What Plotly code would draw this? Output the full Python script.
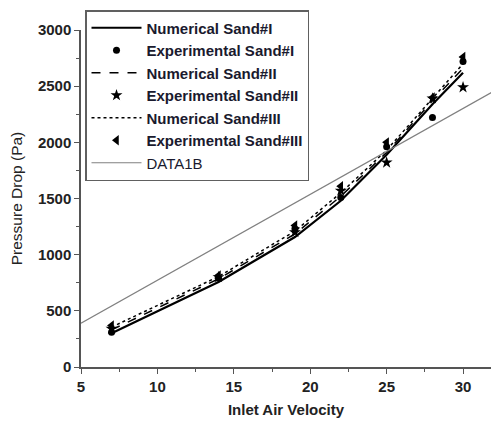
import plotly.graph_objects as go

velocity = [7, 14, 19, 22, 25, 28, 30]

num_sand1 = [300, 757, 1157, 1480, 1890, 2340, 2620]
num_sand2 = [330, 785, 1185, 1520, 1910, 2370, 2660]
num_sand3 = [355, 805, 1210, 1550, 1930, 2395, 2700]

exp_sand1 = [310, 790, 1230, 1510, 1960, 2220, 2720]
exp_sand2 = [340, 800, 1200, 1570, 1820, 2390, 2490]
exp_sand3 = [370, 815, 1260, 1610, 2000, 2400, 2760]

data1b_x = [5, 32.4]
data1b_y = [390, 2485]

x_ticks = [5, 10, 15, 20, 25, 30]
y_ticks = [0, 500, 1000, 1500, 2000, 2500, 3000]

FONT = "Liberation Sans, Arial, sans-serif"

fig = go.Figure()
fig.add_trace(go.Scatter(x=velocity, y=num_sand1, mode="lines", name="<b>Numerical Sand#I</b>",
                         line=dict(color="black", width=2.2, dash="solid"), legendgroup="a"))
fig.add_trace(go.Scatter(x=velocity, y=exp_sand1, mode="markers", name="<b>Experimental Sand#I</b>",
                         marker=dict(symbol="circle", size=7, color="black"), legendgroup="b"))
fig.add_trace(go.Scatter(x=velocity, y=num_sand2, mode="lines", name="<b>Numerical Sand#II</b>",
                         line=dict(color="black", width=1.5, dash="dash"), legendgroup="c"))
fig.add_trace(go.Scatter(x=velocity, y=exp_sand2, mode="markers", name="<b>Experimental Sand#II</b>",
                         marker=dict(symbol="star", size=9, color="black"), legendgroup="d"))
fig.add_trace(go.Scatter(x=velocity, y=num_sand3, mode="lines", name="<b>Numerical Sand#III</b>",
                         line=dict(color="black", width=1.5, dash="dot"), legendgroup="e"))
fig.add_trace(go.Scatter(x=velocity, y=exp_sand3, mode="markers", name="<b>Experimental Sand#III</b>",
                         marker=dict(symbol="triangle-left", size=9, color="black"), legendgroup="f"))
fig.add_trace(go.Scatter(x=data1b_x, y=data1b_y, mode="lines", name="DATA1B",
                         line=dict(color="#808080", width=1.1), legendgroup="g"))

axis_common = dict(
    showgrid=False, zeroline=False, showline=True, linecolor="#555555", linewidth=1.5,
    ticks="outside", ticklen=5, tickwidth=1.2, tickcolor="#555555", automargin=False,
    tickfont=dict(family=FONT, size=15, color="#222222", weight="bold"),
)

fig.update_layout(
    width=483, height=410,
    margin=dict(l=73, r=0, t=22, b=51),
    plot_bgcolor="white", paper_bgcolor="white",
    font=dict(family=FONT, color="#222222"),
    showlegend=True,
    legend=dict(
        x=0.01, y=1.059, xanchor="left", yanchor="top",
        bordercolor="#606060", borderwidth=1.4, bgcolor="white",
        font=dict(family=FONT, size=15, color="#1a1a2e"),
        traceorder="grouped", tracegroupgap=0, itemwidth=50,
    ),
    xaxis=dict(
        range=[5, 31.83], tickvals=x_ticks, ticktext=[str(v) for v in x_ticks],
        minor=dict(ticks="outside", ticklen=3, tickcolor="#555555", dtick=2.5, tick0=5),
        title=dict(text="<b>Inlet Air Velocity</b>", font=dict(family=FONT, size=15, color="#222222"), standoff=12),
        **axis_common,
    ),
    yaxis=dict(
        range=[0, 3000], tickvals=y_ticks, ticktext=[str(v) for v in y_ticks],
        minor=dict(ticks="outside", ticklen=3, tickcolor="#555555", dtick=250, tick0=0),
        title=dict(text="Pressure Drop (Pa)", font=dict(family=FONT, size=15.5, color="#222222"), standoff=12),
        **axis_common,
    ),
)

fig.write_html("out.html")
